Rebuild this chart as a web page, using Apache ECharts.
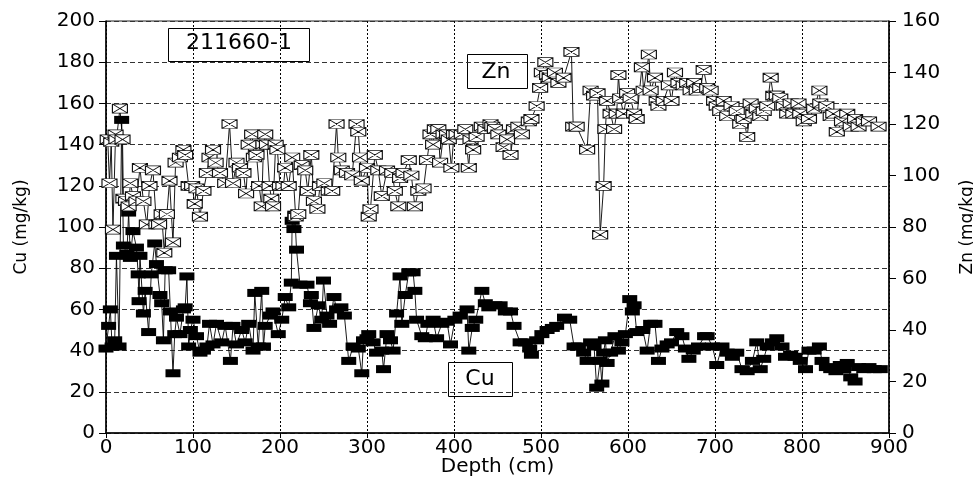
<!DOCTYPE html>
<html>
<head>
<meta charset="utf-8">
<script src="https://cdn.jsdelivr.net/npm/echarts@6/dist/echarts.min.js"></script>
<style>
  html, body { margin: 0; padding: 0; background: #fff; }
  #chart { width: 973px; height: 477px; }
</style>
</head>
<body>
<div id="chart"></div>
<script>
// Core 211660-1: Zn and Cu concentrations against depth
const znDepth = [2,4,6,8,11,12,16,19,20,23,26,28,31,35,39,43,47,50,54,58,61,64,67,70,73,77,80,85,89,91,95,99,102,104,108,112,116,119,123,126,131,137,142,146,150,154,158,161,164,168,170,173,176,179,181,183,185,188,190,192,195,197,200,204,206,210,214,218,221,225,229,232,236,239,243,246,251,256,260,265,267,271,277,283,288,290,292,294,300,302,304,309,313,317,323,329,332,336,338,342,348,351,355,359,365,369,373,376,378,382,384,388,392,394,397,400,403,409,413,417,419,422,426,432,436,442,444,447,451,457,461,465,469,474,478,486,489,495,499,501,505,507,510,516,520,526,535,537,541,553,557,561,565,568,572,574,576,580,584,587,589,591,595,599,603,607,610,616,618,624,626,631,633,635,641,647,650,654,658,664,668,672,676,679,683,687,691,695,699,702,706,710,714,719,725,729,733,737,741,744,748,752,756,760,764,767,771,775,779,783,787,790,796,798,802,808,814,820,821,828,833,836,840,846,852,856,861,865,871,877,888];
const znValue = [114,97,113,79,116,114,126,114,91,90,88,97,92,90,103,90,81,96,102,81,81,85,70,85,98,74,105,107,110,108,96,96,89,95,84,94,101,107,110,105,101,97,120,97,105,103,101,93,112,116,107,108,96,88,112,116,112,96,91,88,112,110,96,96,103,96,107,84,85,104,102,94,108,90,87,96,97,94,94,120,107,102,101,100,120,117,107,98,103,84,87,108,102,92,102,101,94,88,99,101,106,100,88,94,95,106,116,112,118,118,105,116,116,114,103,116,116,116,118,103,114,110,115,119,118,120,119,118,116,111,114,108,118,119,116,121,122,127,134,140,144,139,138,140,136,138,148,119,119,110,133,131,132,77,96,118,129,124,118,124,139,130,124,132,130,124,122,142,133,147,133,138,129,127,129,135,129,140,136,135,136,133,136,133,134,141,134,133,129,127,125,129,123,127,125,120,122,115,128,124,126,123,125,127,138,131,131,130,127,124,128,124,128,124,121,122,126,133,128,127,123,124,117,121,124,119,122,119,121,121,119];

const cuDepth = [0,3,5,7,10,12,15,18,20,24,26,28,31,35,37,38,39,43,45,49,52,56,58,62,64,66,68,72,74,77,79,81,85,89,91,93,95,97,100,104,108,112,116,119,123,127,133,137,143,146,150,156,160,164,169,171,175,179,181,183,189,192,198,202,206,210,213,214,216,217,219,223,231,235,236,239,244,248,250,254,257,262,265,270,274,279,284,290,294,296,300,302,307,311,317,319,323,327,330,334,338,340,344,348,353,355,357,363,367,370,376,380,386,392,396,401,407,415,417,421,425,432,436,440,447,453,459,465,469,476,482,487,489,495,501,507,513,518,527,533,538,543,549,553,557,561,564,568,570,572,574,576,580,585,589,593,597,602,605,607,610,617,622,626,631,635,639,645,650,656,662,666,670,675,681,688,691,697,702,708,714,720,725,731,737,743,748,752,756,760,766,771,777,781,787,792,798,804,808,814,820,823,828,833,839,844,848,852,856,861,865,871,877,883,890];
const cuValue = [41,52,60,42,45,86,42,152,91,87,107,85,98,90,77,64,86,58,69,49,77,92,82,67,63,45,79,79,59,29,48,56,48,60,61,76,42,50,55,47,39,40,42,53,43,53,44,52,35,52,43,50,44,53,40,68,42,69,42,52,57,59,48,55,66,61,73,103,99,106,89,72,72,63,67,51,62,55,74,57,53,66,60,61,57,35,42,41,29,45,46,48,44,39,40,31,48,45,40,58,76,53,67,78,78,69,55,47,46,53,55,46,53,54,43,55,57,60,40,51,55,69,63,61,62,62,59,59,52,44,44,41,38,45,48,50,51,52,56,55,42,42,39,35,44,42,22,35,24,39,45,34,39,47,40,44,48,65,59,62,49,50,40,53,53,35,41,43,44,49,47,41,36,40,42,47,47,42,33,42,39,37,39,31,30,35,44,31,36,42,44,46,42,37,38,37,35,31,40,40,42,35,32,31,30,33,31,34,27,25,32,31,32,31,31];

// Axis ranges and tick steps
const depthAxis = { min: 0, max: 900, step: 100 };
const cuAxis = { min: 0, max: 200, step: 20 };
const znAxis = { min: 0, max: 160, step: 20 };

const FONT = 'DejaVu Sans';
const INK = '#000';

const chart = echarts.init(document.getElementById('chart'), null, { renderer: 'canvas' });

const tickLabel = { fontFamily: FONT, fontSize: 20, color: INK };

chart.setOption({
  animation: false,
  backgroundColor: '#fff',
  grid: {
    left: 106, right: 84, top: 21, bottom: 44,
    containLabel: false, outerBoundsMode: 'none',
    show: true, borderColor: '#222', borderWidth: 1
  },
  xAxis: {
    type: 'value',
    min: depthAxis.min, max: depthAxis.max, interval: depthAxis.step,
    name: 'Depth (cm)', nameLocation: 'middle', nameGap: 24, nameMoveOverlap: false,
    nameTextStyle: { fontFamily: FONT, fontSize: 20, color: INK },
    axisLine: { onZero: false, lineStyle: { color: INK, width: 1.5 } },
    axisTick: { show: true, inside: false, length: 5, lineStyle: { color: INK } },
    axisLabel: Object.assign({ margin: 5 }, tickLabel),
    splitLine: { show: true, lineStyle: { type: [2, 2], color: INK, width: 1 } }
  },
  yAxis: [
    {
      type: 'value', position: 'left',
      min: cuAxis.min, max: cuAxis.max, interval: cuAxis.step,
      name: 'Cu (mg/kg)', nameLocation: 'middle', nameGap: 76, nameRotate: 90, nameMoveOverlap: false,
      nameTextStyle: { fontFamily: FONT, fontSize: 17, color: INK },
      axisLine: { show: true, onZero: false, lineStyle: { color: INK, width: 1.5 } },
      axisTick: { show: true, inside: false, length: 7, lineStyle: { color: INK } },
      axisLabel: Object.assign({ margin: 11 }, tickLabel),
      splitLine: { show: true, lineStyle: { type: [5, 3], color: '#333', width: 1 } }
    },
    {
      type: 'value', position: 'right',
      min: znAxis.min, max: znAxis.max, interval: znAxis.step,
      name: 'Zn (mg/kg)', nameLocation: 'middle', nameGap: 70, nameRotate: 90, nameMoveOverlap: false,
      nameTextStyle: { fontFamily: FONT, fontSize: 17, color: INK },
      axisLine: { show: true, onZero: false, lineStyle: { color: INK, width: 1.5 } },
      axisTick: { show: true, inside: false, length: 7, lineStyle: { color: INK } },
      axisLabel: Object.assign({ margin: 13 }, tickLabel),
      splitLine: { show: false }
    }
  ],
  series: [
    {
      name: 'Zn', type: 'line', yAxisIndex: 1,
      data: znValue.map((v, i) => [znDepth[i], v]),
      symbol: 'path://M0,0L15,0L15,9L0,9ZM0,0L15,9M15,0L0,9',
      symbolSize: [15, 9], showAllSymbol: true,
      itemStyle: { color: '#fff', borderColor: '#111', borderWidth: 0.9 },
      lineStyle: { color: INK, width: 0.9 },
      z: 3
    },
    {
      name: 'Cu', type: 'line', yAxisIndex: 0,
      data: cuValue.map((v, i) => [cuDepth[i], v]),
      symbol: 'rect', symbolSize: [15, 8], showAllSymbol: true,
      itemStyle: { color: INK, borderWidth: 0 },
      lineStyle: { color: INK, width: 0.9 },
      z: 2
    }
  ],
  graphic: [
    {
      type: 'group', z: 100,
      children: [
        { type: 'rect', shape: { x: 168.5, y: 28.5, width: 141, height: 33 },
          style: { fill: '#fff', stroke: INK, lineWidth: 1 } },
        { type: 'text', x: 239, y: 43,
          style: { text: '211660-1', font: '22px "DejaVu Sans"', fill: INK, align: 'center', verticalAlign: 'middle' } },
        { type: 'rect', shape: { x: 467.5, y: 54.5, width: 60, height: 34 },
          style: { fill: '#fff', stroke: INK, lineWidth: 1 } },
        { type: 'text', x: 496, y: 72,
          style: { text: 'Zn', font: '22px "DejaVu Sans"', fill: INK, align: 'center', verticalAlign: 'middle' } },
        { type: 'rect', shape: { x: 448.5, y: 362.5, width: 64, height: 34 },
          style: { fill: '#fff', stroke: INK, lineWidth: 1 } },
        { type: 'text', x: 480, y: 379,
          style: { text: 'Cu', font: '22px "DejaVu Sans"', fill: INK, align: 'center', verticalAlign: 'middle' } }
      ]
    }
  ]
});
</script>
</body>
</html>
